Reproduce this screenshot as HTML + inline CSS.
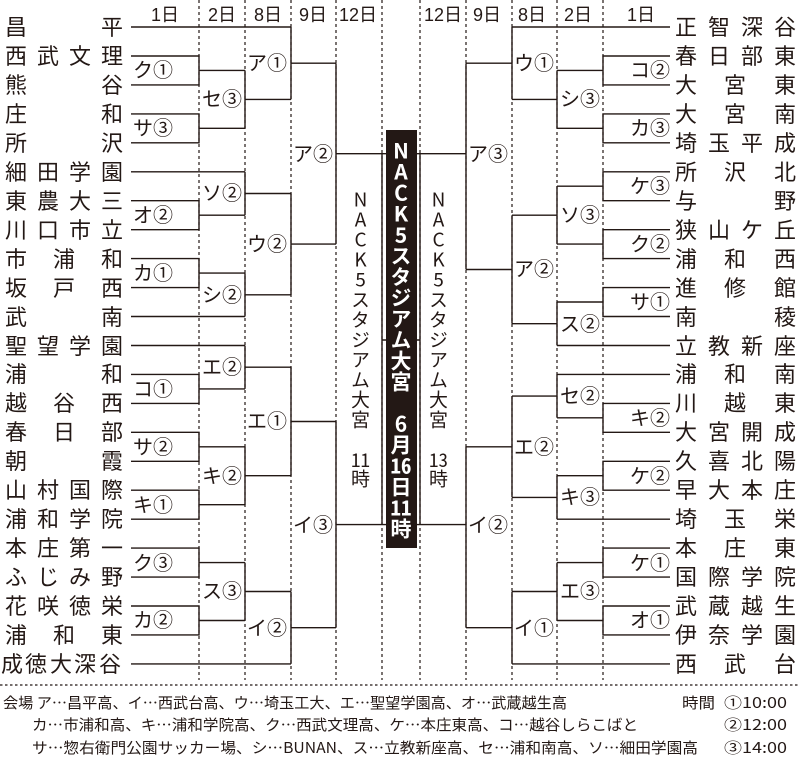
<!DOCTYPE html>
<html><head><meta charset="utf-8"><style>
html,body{margin:0;padding:0;background:#fff;}
#w{position:relative;width:800px;height:766px;overflow:hidden;font-family:"Liberation Sans","Noto Sans CJK JP",sans-serif;color:#231815;}
svg{position:absolute;left:0;top:0;}
.v{position:absolute;writing-mode:vertical-rl;text-orientation:upright;white-space:nowrap;line-height:1;font-family:"Noto Sans CJK JP",sans-serif;}
.t{text-combine-upright:all;}
</style></head><body><div id="w">
<svg width="800" height="766" viewBox="0 0 800 766" xmlns="http://www.w3.org/2000/svg">
<g stroke="#231815" stroke-width="1.2" stroke-dasharray="3,3" fill="none">
<path d="M199 0V680M245 0V680M291 0V680M336 0V680M382 0V680M420 0V680M466 0V680M512 0V680M557 0V680M603 0V680"/>
</g>
<path d="M0 685H800" stroke="#231815" stroke-width="1.2" stroke-dasharray="2.5,2.5"/>
<g stroke="#231815" stroke-width="1.4" fill="none">
<path d="M131 27H291M131 663.9H291M131 171.8H245M131 316.5H245M131 345.5H245"/>
<path d="M131 56H199V84.9H131M199 70.4H245"/>
<path d="M131 113.9H199V142.8H131M199 128.3H245"/>
<path d="M131 200.7H199V229.7H131M199 215.2H245"/>
<path d="M131 258.6H199V287.6H131M199 273.1H245"/>
<path d="M131 374.4H199V403.4H131M199 388.9H245"/>
<path d="M131 432.3H199V461.3H131M199 446.8H245"/>
<path d="M131 490.2H199V519.2H131M199 504.7H245"/>
<path d="M131 548.1H199V577.1H131M199 562.6H245"/>
<path d="M131 606H199V634.9H131M199 620.5H245"/>
<path d="M245 70.4V128.3M245 99.4H291"/>
<path d="M245 171.8V215.2M245 193.5H291"/>
<path d="M245 273.1V316.5M245 294.8H291"/>
<path d="M245 345.5V388.9M245 367.2H291"/>
<path d="M245 446.8V504.7M245 475.7H291"/>
<path d="M245 562.6V620.5M245 591.5H291"/>
<path d="M291 27V99.4M291 63.2H336"/>
<path d="M291 193.5V294.8M291 244.1H336"/>
<path d="M291 367.2V475.7M291 421.5H336"/>
<path d="M291 591.5V663.9M291 627.7H336"/>
<path d="M336 63.2V244.1M336 153.7H382"/>
<path d="M336 421.5V627.7M336 524.6H382"/>
<path d="M382 153.7V524.6M382 153.7H386M382 524.6H386M382 340H386"/>
<path d="M670 27H512M670 663.9H512M670 345.5H557M670 374.4H557M670 519.2H557"/>
<path d="M670 56H603V84.9H670M603 70.4H557"/>
<path d="M670 113.9H603V142.8H670M603 128.3H557"/>
<path d="M670 171.8H603V200.7H670M603 186.2H557"/>
<path d="M670 229.7H603V258.6H670M603 244.1H557"/>
<path d="M670 287.6H603V316.5H670M603 302H557"/>
<path d="M670 403.4H603V432.3H670M603 417.8H557"/>
<path d="M670 461.3H603V490.2H670M603 475.7H557"/>
<path d="M670 548.1H603V577.1H670M603 562.6H557"/>
<path d="M670 606H603V634.9H670M603 620.5H557"/>
<path d="M557 70.4V128.3M557 99.4H512"/>
<path d="M557 186.2V244.1M557 215.2H512"/>
<path d="M557 302V345.5M557 323.7H512"/>
<path d="M557 374.4V417.8M557 396.1H512"/>
<path d="M557 475.7V519.2M557 497.4H512"/>
<path d="M557 562.6V620.5M557 591.5H512"/>
<path d="M512 27V99.4M512 63.2H466"/>
<path d="M512 215.2V323.7M512 269.5H466"/>
<path d="M512 396.1V497.4M512 446.8H466"/>
<path d="M512 591.5V663.9M512 627.7H466"/>
<path d="M466 63.2V269.5M466 153.7H420"/>
<path d="M466 446.8V627.7M466 524.6H420"/>
<path d="M420 153.7V524.6M420 153.7H417M420 524.6H417M420 340H417"/>
</g>
<rect x="386" y="130" width="31" height="418" fill="#231815"/>
<g font-family="Liberation Sans, Noto Sans CJK JP, sans-serif" fill="#231815" font-size="18" text-anchor="middle">
<text x="165" y="21">1日</text><text x="222" y="21">2日</text><text x="268" y="21">8日</text><text x="313" y="21">9日</text><text x="358" y="21">12日</text>
<text x="443" y="21">12日</text><text x="487" y="21">9日</text><text x="532" y="21">8日</text><text x="578" y="21">2日</text><text x="641" y="21">1日</text>
</g>
<g font-family="Liberation Sans, Noto Sans CJK JP, sans-serif" fill="#231815" font-size="22" text-anchor="middle">
<text y="35"><tspan x="16">昌</tspan><tspan x="112">平</tspan></text>
<text y="64"><tspan x="16">西</tspan><tspan x="48">武</tspan><tspan x="80">文</tspan><tspan x="112">理</tspan></text>
<text y="93"><tspan x="16">熊</tspan><tspan x="112">谷</tspan></text>
<text y="122"><tspan x="16">庄</tspan><tspan x="112">和</tspan></text>
<text y="151"><tspan x="16">所</tspan><tspan x="112">沢</tspan></text>
<text y="180"><tspan x="16">細</tspan><tspan x="48">田</tspan><tspan x="80">学</tspan><tspan x="112">園</tspan></text>
<text y="209"><tspan x="16">東</tspan><tspan x="48">農</tspan><tspan x="80">大</tspan><tspan x="112">三</tspan></text>
<text y="238"><tspan x="16">川</tspan><tspan x="48">口</tspan><tspan x="80">市</tspan><tspan x="112">立</tspan></text>
<text y="267"><tspan x="16">市</tspan><tspan x="64">浦</tspan><tspan x="112">和</tspan></text>
<text y="296"><tspan x="16">坂</tspan><tspan x="64">戸</tspan><tspan x="112">西</tspan></text>
<text y="325"><tspan x="16">武</tspan><tspan x="112">南</tspan></text>
<text y="354"><tspan x="16">聖</tspan><tspan x="48">望</tspan><tspan x="80">学</tspan><tspan x="112">園</tspan></text>
<text y="382"><tspan x="16">浦</tspan><tspan x="112">和</tspan></text>
<text y="411"><tspan x="16">越</tspan><tspan x="64">谷</tspan><tspan x="112">西</tspan></text>
<text y="440"><tspan x="16">春</tspan><tspan x="64">日</tspan><tspan x="112">部</tspan></text>
<text y="469"><tspan x="16">朝</tspan><tspan x="112">霞</tspan></text>
<text y="498"><tspan x="16">山</tspan><tspan x="48">村</tspan><tspan x="80">国</tspan><tspan x="112">際</tspan></text>
<text y="527"><tspan x="16">浦</tspan><tspan x="48">和</tspan><tspan x="80">学</tspan><tspan x="112">院</tspan></text>
<text y="556"><tspan x="16">本</tspan><tspan x="48">庄</tspan><tspan x="80">第</tspan><tspan x="112">一</tspan></text>
<text y="585"><tspan x="16">ふ</tspan><tspan x="48">じ</tspan><tspan x="80">み</tspan><tspan x="112">野</tspan></text>
<text y="614"><tspan x="16">花</tspan><tspan x="48">咲</tspan><tspan x="80">徳</tspan><tspan x="112">栄</tspan></text>
<text y="643"><tspan x="16">浦</tspan><tspan x="64">和</tspan><tspan x="112">東</tspan></text>
<text y="672"><tspan x="12">成</tspan><tspan x="36">徳</tspan><tspan x="61">大</tspan><tspan x="85">深</tspan><tspan x="110">谷</tspan></text>

<text y="35"><tspan x="686">正</tspan><tspan x="719">智</tspan><tspan x="752">深</tspan><tspan x="785">谷</tspan></text>
<text y="64"><tspan x="686">春</tspan><tspan x="719">日</tspan><tspan x="752">部</tspan><tspan x="785">東</tspan></text>
<text y="93"><tspan x="686">大</tspan><tspan x="735">宮</tspan><tspan x="785">東</tspan></text>
<text y="122"><tspan x="686">大</tspan><tspan x="735">宮</tspan><tspan x="785">南</tspan></text>
<text y="151"><tspan x="686">埼</tspan><tspan x="719">玉</tspan><tspan x="752">平</tspan><tspan x="785">成</tspan></text>
<text y="180"><tspan x="686">所</tspan><tspan x="735">沢</tspan><tspan x="785">北</tspan></text>
<text y="209"><tspan x="686">与</tspan><tspan x="785">野</tspan></text>
<text y="238"><tspan x="686">狭</tspan><tspan x="719">山</tspan><tspan x="752">ケ</tspan><tspan x="785">丘</tspan></text>
<text y="267"><tspan x="686">浦</tspan><tspan x="735">和</tspan><tspan x="785">西</tspan></text>
<text y="296"><tspan x="686">進</tspan><tspan x="735">修</tspan><tspan x="785">館</tspan></text>
<text y="325"><tspan x="686">南</tspan><tspan x="785">稜</tspan></text>
<text y="354"><tspan x="686">立</tspan><tspan x="719">教</tspan><tspan x="752">新</tspan><tspan x="785">座</tspan></text>
<text y="382"><tspan x="686">浦</tspan><tspan x="735">和</tspan><tspan x="785">南</tspan></text>
<text y="411"><tspan x="686">川</tspan><tspan x="735">越</tspan><tspan x="785">東</tspan></text>
<text y="440"><tspan x="686">大</tspan><tspan x="719">宮</tspan><tspan x="752">開</tspan><tspan x="785">成</tspan></text>
<text y="469"><tspan x="686">久</tspan><tspan x="719">喜</tspan><tspan x="752">北</tspan><tspan x="785">陽</tspan></text>
<text y="498"><tspan x="686">早</tspan><tspan x="719">大</tspan><tspan x="752">本</tspan><tspan x="785">庄</tspan></text>
<text y="527"><tspan x="686">埼</tspan><tspan x="735">玉</tspan><tspan x="785">栄</tspan></text>
<text y="556"><tspan x="686">本</tspan><tspan x="735">庄</tspan><tspan x="785">東</tspan></text>
<text y="585"><tspan x="686">国</tspan><tspan x="719">際</tspan><tspan x="752">学</tspan><tspan x="785">院</tspan></text>
<text y="614"><tspan x="686">武</tspan><tspan x="719">蔵</tspan><tspan x="752">越</tspan><tspan x="785">生</tspan></text>
<text y="643"><tspan x="686">伊</tspan><tspan x="719">奈</tspan><tspan x="752">学</tspan><tspan x="785">園</tspan></text>
<text y="672"><tspan x="686">西</tspan><tspan x="735">武</tspan><tspan x="785">台</tspan></text>
</g>
<g font-family="Noto Sans CJK JP, sans-serif" fill="#231815" font-size="20">
<text x="133" y="77">ク①</text><text x="133" y="135">サ③</text><text x="133" y="222">オ②</text><text x="133" y="280">カ①</text>
<text x="133" y="396">コ①</text><text x="133" y="454">サ②</text><text x="133" y="512">キ①</text><text x="133" y="570">ク③</text><text x="133" y="627">カ②</text>
<text x="202" y="106">セ③</text><text x="202" y="200">ソ②</text><text x="202" y="302">シ②</text><text x="202" y="374">エ②</text><text x="202" y="483">キ②</text><text x="202" y="598">ス③</text>
<text x="247" y="70">ア①</text><text x="247" y="251">ウ②</text><text x="247" y="428">エ①</text><text x="247" y="635">イ②</text>
<text x="293" y="161">ア②</text><text x="293" y="532">イ③</text>
<text x="560" y="106">シ③</text><text x="560" y="222">ソ③</text><text x="560" y="331">ス②</text><text x="560" y="403">セ②</text><text x="560" y="504">キ③</text><text x="560" y="598">エ③</text>
<text x="514" y="70">ウ①</text><text x="514" y="276">ア②</text><text x="514" y="454">エ②</text><text x="514" y="635">イ①</text>
<text x="468" y="161">ア③</text><text x="468" y="532">イ②</text>
<g text-anchor="end">
<text x="670" y="77">コ②</text><text x="670" y="135">カ③</text><text x="670" y="193">ケ③</text><text x="670" y="251">ク②</text><text x="670" y="309">サ①</text>
<text x="670" y="425">キ②</text><text x="670" y="483">ケ②</text><text x="670" y="570">ケ①</text><text x="670" y="627">オ①</text>
</g>
</g>
<g font-family="Noto Sans CJK JP, sans-serif" fill="#231815" font-size="15">
<text x="3" y="708" textLength="564" lengthAdjust="spacingAndGlyphs">会場 ア…昌平高、イ…西武台高、ウ…埼玉工大、エ…聖望学園高、オ…武蔵越生高</text>
<text x="32" y="730" textLength="606" lengthAdjust="spacingAndGlyphs">カ…市浦和高、キ…浦和学院高、ク…西武文理高、ケ…本庄東高、コ…越谷しらこばと</text>
<text x="32" y="753" textLength="666" lengthAdjust="spacingAndGlyphs">サ…惣右衛門公園サッカー場、シ…BUNAN、ス…立教新座高、セ…浦和南高、ソ…細田学園高</text>
<text x="682" y="708" textLength="33" lengthAdjust="spacingAndGlyphs">時間</text>
<text x="724" y="708" textLength="63" lengthAdjust="spacingAndGlyphs">①10:00</text>
<text x="724" y="730" textLength="63" lengthAdjust="spacingAndGlyphs">②12:00</text>
<text x="724" y="753" textLength="63" lengthAdjust="spacingAndGlyphs">③14:00</text>
</g>
</svg>
<div class="v" style="left:351px;top:190px;font-size:19px;letter-spacing:1px;">NACK5スタジアム大宮 <span class="t">11</span>時</div>
<div class="v" style="left:429px;top:190px;font-size:19px;letter-spacing:1px;">NACK5スタジアム大宮 <span class="t">13</span>時</div>
<div class="v" style="left:390px;top:140px;font-size:21px;font-weight:bold;color:#fff;letter-spacing:0px;">NACK5スタジアム大宮 6月<span class="t">16</span>日<span class="t">11</span>時</div>
</div></body></html>
